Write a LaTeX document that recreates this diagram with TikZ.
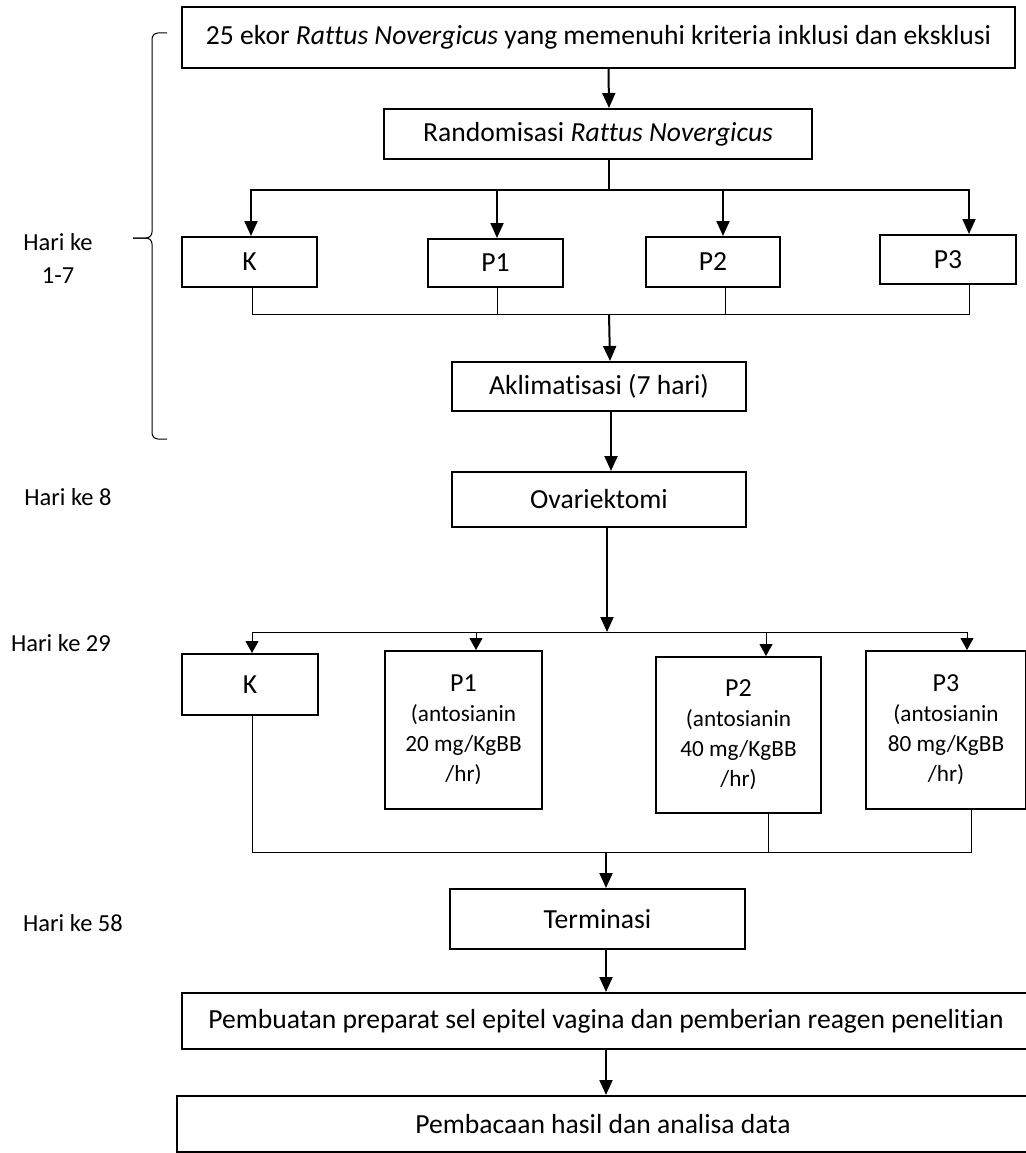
\documentclass[tikz,border=0pt]{standalone}
\usepackage{fontspec}
\setmainfont[Ligatures=NoCommon]{Carlito}
\usetikzlibrary{arrows.meta}

\begin{document}
\begin{tikzpicture}[x=1pt,y=-1pt,
    font=\fontsize{27.6}{32}\selectfont,
    box/.style={draw,line width=2pt,inner sep=0pt,align=center},
    dose/.style={box,font=\fontsize{23.2}{30}\selectfont},
    flow/.style={line width=2pt,-{Triangle[length=15pt,width=13pt]}},
    fan/.style={line width=1pt,-{Triangle[length=12pt,width=13pt]}},
    backline/.style={line width=1pt},
    hari/.style={font=\fontsize{24.5}{33}\selectfont,align=center}]
  \useasboundingbox (0,0) rectangle (1025,1153);

  \node[box,minimum width=833pt,minimum height=61pt] (start) at (598.5,37.5)
    {25 ekor \textit{Rattus Novergicus} yang memenuhi kriteria inklusi dan eksklusi};
  \node[box,minimum width=428pt,minimum height=50pt] (rand) at (598,134)
    {Randomisasi \textit{Rattus Novergicus}};

  % kelompok hari 1-7
  \node[box,minimum width=135pt,minimum height=50pt] (k1) at (249.5,262) {K};
  \node[box,minimum width=135pt,minimum height=48pt] (p11) at (495.5,263) {P1};
  \node[box,minimum width=134pt,minimum height=50pt] (p21) at (713,262) {P2};
  \node[box,minimum width=136pt,minimum height=49pt] (p31) at (948,259.5) {P3};

  \node[box,minimum width=294pt,minimum height=49pt] (akl) at (599,386.5) {Aklimatisasi (7 hari)};
  \node[box,minimum width=294pt,minimum height=55pt] (ova) at (599,499.5) {Ovariektomi};

  % kelompok perlakuan
  \node[box,minimum width=136pt,minimum height=61pt] (k2) at (250,684.5) {K};
  \node[dose,minimum width=157pt,minimum height=158pt] (p12) at (463.5,730)
    {{\fontsize{26}{30}\selectfont P1}\\(antosianin\\20 mg/KgBB\\/hr)};
  \node[dose,minimum width=165pt,minimum height=156pt] (p22) at (738.5,735)
    {{\fontsize{26}{30}\selectfont P2}\\(antosianin\\40 mg/KgBB\\/hr)};
  \node[dose,minimum width=160pt,minimum height=158pt] (p32) at (946,730)
    {{\fontsize{26}{30}\selectfont P3}\\(antosianin\\80 mg/KgBB\\/hr)};

  \node[box,minimum width=295pt,minimum height=60pt] (term) at (597.5,919) {Terminasi};
  \node[box,minimum width=848pt,minimum height=56pt] (pemb) at (606,1021)
    {Pembuatan preparat sel epitel vagina dan pemberian reagen penelitian};
  \node[box,minimum width=852pt,minimum height=56pt] (baca) at (603,1124)
    {Pembacaan hasil dan analisa data};

  \node[hari] (hari1) at (58,258) {Hari ke\\1-7};
  \node[hari] (hari8) at (68,497) {Hari ke 8};
  \node[hari] (hari29) at (61,643) {Hari ke 29};
  \node[hari] (hari58) at (73,923) {Hari ke 58};

  \coordinate (fan1) at (609,190);
  \coordinate (gather1) at (609,314);
  \coordinate (fan2) at (607,632);
  \coordinate (gather2) at (606,852);

  \draw[flow] ([xshift=10pt]start.south) -- ([xshift=11pt]rand.north);
  \draw[line width=2pt] ([xshift=11pt]rand.south) -- (fan1);
  \draw[flow] (fan1) -| ([xshift=1.5pt]k1.north);
  \draw[flow] (fan1) -| ([xshift=1.5pt]p11.north);
  \draw[flow] (fan1) -| ([xshift=10pt]p21.north);
  \draw[flow] (fan1) -| ([xshift=21pt]p31.north);

  \draw[backline] ([xshift=2.5pt]k1.south) |- (gather1);
  \draw[backline] ([xshift=1.5pt]p11.south) |- (gather1);
  \draw[backline] ([xshift=12pt]p21.south) |- (gather1);
  \draw[backline] ([xshift=21pt]p31.south) |- (gather1);
  \draw[flow] (gather1) -- ([xshift=11pt]akl.north);
  \draw[flow] ([xshift=12pt]akl.south) -- ([xshift=12pt]ova.north);

  \draw[flow] ([xshift=8pt]ova.south) -- (fan2);
  \draw[fan] (fan2) -| ([xshift=2pt]k2.north);
  \draw[fan] (fan2) -| ([xshift=12.5pt]p12.north);
  \draw[fan] (fan2) -| ([xshift=27.5pt]p22.north);
  \draw[fan] (fan2) -| ([xshift=21pt]p32.north);

  \draw[backline] ([xshift=2pt]k2.south) |- (gather2);
  \draw[backline] ([xshift=29.5pt]p22.south) |- (gather2);
  \draw[backline] ([xshift=25pt]p32.south) |- (gather2);
  \draw[flow] (gather2) -- ([xshift=8.5pt]term.north);
  \draw[flow] ([xshift=8.5pt]term.south) -- (pemb.north);
  \draw[flow] (pemb.south) -- ([xshift=3pt]baca.north);

  % kurung kurawal hari 1-7
  \draw[line width=1pt,rounded corners=6pt] (167,33) -- (152,33) -- (152,238) -- (133,238);
  \draw[line width=1pt,rounded corners=6pt] (133,238) -- (152,238) -- (152,439) -- (167,439);
\end{tikzpicture}
\end{document}
